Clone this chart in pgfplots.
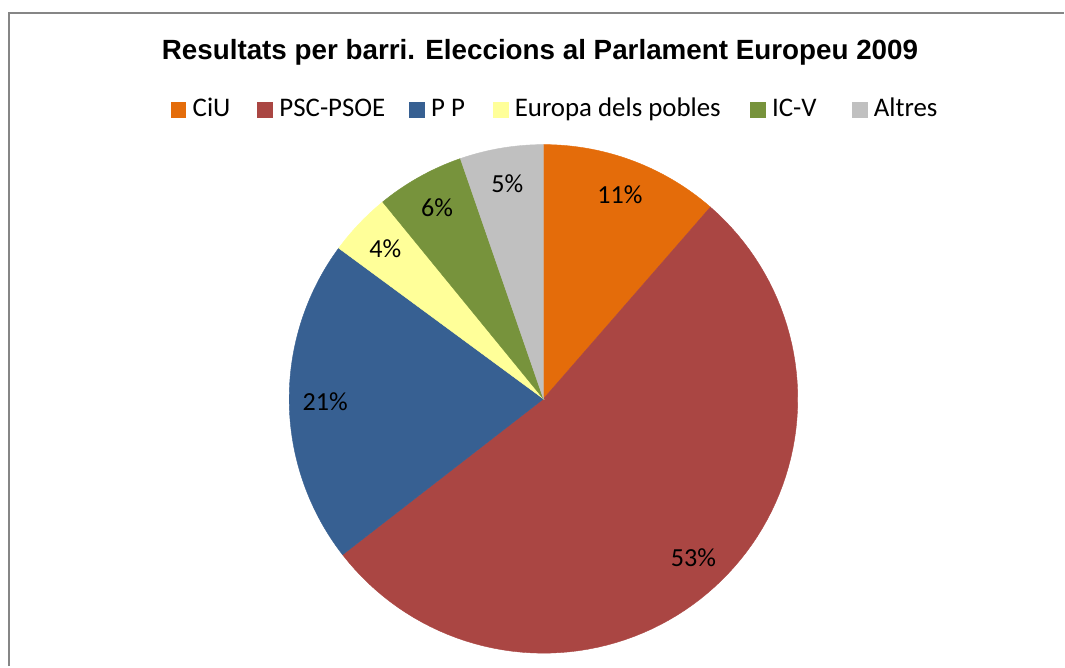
\documentclass[border=0pt]{standalone}
\usepackage{pgfplots}
\pgfplotsset{compat=1.18}
\usepackage{pgfplotstable}
\usepackage{fontspec}
\setmainfont{Carlito}
\newfontfamily\titlefont{Liberation Sans}

\definecolor{cCiU}{HTML}{E46C0A}
\definecolor{cPSC}{HTML}{AA4643}
\definecolor{cPP}{HTML}{376092}
\definecolor{cEur}{HTML}{FFFF99}
\definecolor{cICV}{HTML}{77933C}
\definecolor{cAlt}{HTML}{C0C0C0}
\definecolor{frame}{HTML}{868686}

% vote share (%) per party
\pgfplotstableread{
party value
CiU 11.4
PSC-PSOE 53.1
PP 20.6
Europa 4.0
ICV 5.6
Altres 5.3
}\piedata

\newcommand\getv[2]{\pgfplotstablegetelem{#1}{value}\of\piedata\global\let#2\pgfplotsretval}
\getv{0}\vA \getv{1}\vB \getv{2}\vC \getv{3}\vD \getv{4}\vE \getv{5}\vF
% cumulative angles, clockwise from 12 o'clock
\pgfmathsetmacro\aA{0}
\pgfmathsetmacro\aB{\aA+3.6*\vA}
\pgfmathsetmacro\aC{\aB+3.6*\vB}
\pgfmathsetmacro\aD{\aC+3.6*\vC}
\pgfmathsetmacro\aE{\aD+3.6*\vD}
\pgfmathsetmacro\aF{\aE+3.6*\vE}
\pgfmathsetmacro\aG{\aF+3.6*\vF}
\pgfmathsetmacro\mA{(\aA+\aB)/2}
\pgfmathsetmacro\mB{(\aB+\aC)/2}
\pgfmathsetmacro\mC{(\aC+\aD)/2}
\pgfmathsetmacro\mD{(\aD+\aE)/2}
\pgfmathsetmacro\mE{(\aE+\aF)/2}
\pgfmathsetmacro\mF{(\aF+\aG)/2}

\newcommand\slice[3]{%
  \addplot[fill=#1, draw=#1, line width=0.3pt, domain=#2:#3, samples=90, variable=\t, mark=none]
    ({545+255*sin(t)},{266+255*cos(t)}) -- (axis cs:545,266) -- cycle;}
\newcommand\plabel[2]{%
  \node[font=\fontsize{19.6}{23}\selectfont, inner sep=0pt] at (axis cs:{545+219*sin(#1)},{266+219*cos(#1)}) {#2};}
\newcommand\legitem[3]{%
  \fill[#1] (axis cs:#2,548) rectangle (axis cs:#2+16,564);
  \node[anchor=base west, inner sep=0pt, font=\fontsize{20.2}{24}\selectfont] at (axis cs:#2+22,549) {#3};}

\begin{document}
\begin{tikzpicture}
\begin{axis}[at={(0,0)}, anchor=south west,
  width=798.75pt, height=499.5pt, scale only axis,
  xmin=0, xmax=1065, ymin=0, ymax=666,
  hide axis, clip=false]
\path (axis cs:0,0) rectangle (axis cs:1065,666);
\draw[frame, line width=1.5pt] (axis cs:9,-2) -- (axis cs:9,653) -- (axis cs:1067,653);

\slice{cCiU}{\aA}{\aB}
\slice{cPSC}{\aB}{\aC}
\slice{cPP}{\aC}{\aD}
\slice{cEur}{\aD}{\aE}
\slice{cICV}{\aE}{\aF}
\slice{cAlt}{\aF}{\aG}

\plabel{\mA}{11\%}
\plabel{\mB}{53\%}
\plabel{\mC}{21\%}
\plabel{\mD}{4\%}
\plabel{\mE}{6\%}
\plabel{\mF}{5\%}

\node[anchor=base, inner sep=0pt, font=\titlefont\bfseries\fontsize{20.9}{24}\selectfont] at (axis cs:541.5,606) {Resultats per barri. Eleccions al Parlament Europeu 2009};

\legitem{cCiU}{171}{CiU}
\legitem{cPSC}{258}{PSC-PSOE}
\legitem{cPP}{410}{P P}
\legitem{cEur}{494}{Europa dels pobles}
\legitem{cICV}{752}{IC-V}
\legitem{cAlt}{854}{Altres}
\end{axis}
\end{tikzpicture}
\end{document}
